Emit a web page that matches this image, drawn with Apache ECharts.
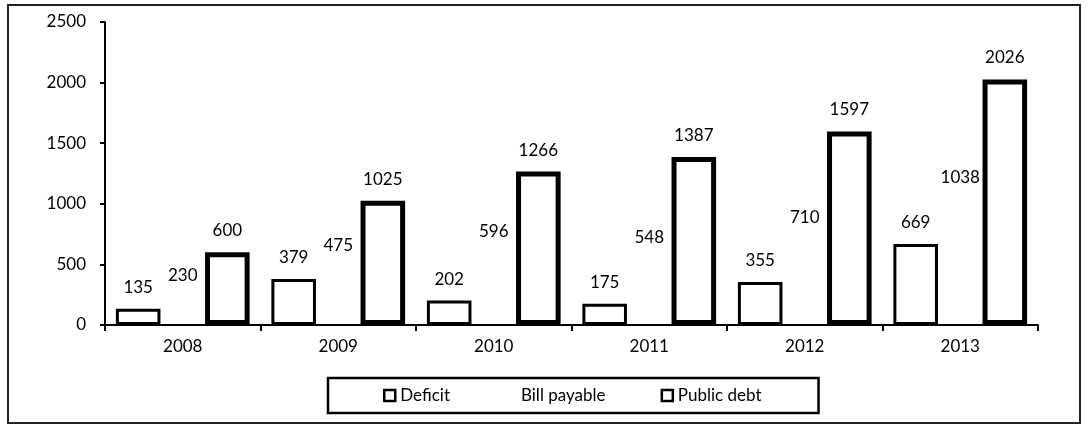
<!DOCTYPE html>
<html>
<head>
<meta charset="utf-8">
<script src="https://cdn.jsdelivr.net/npm/echarts@6/dist/echarts.min.js"></script>
<style>
html,body{margin:0;padding:0;background:#fff;}
#chart{width:1088px;height:426px;}
</style>
</head>
<body>
<div id="chart"></div>
<script>
const categories = ['2008', '2009', '2010', '2011', '2012', '2013'];
const deficit = [135, 379, 202, 175, 355, 669];
const billPayable = [230, 475, 596, 548, 710, 1038];
const publicDebt = [600, 1025, 1266, 1387, 1597, 2026];
const yTicks = [0, 500, 1000, 1500, 2000, 2500];

const FONT = 'Lato';
const chart = echarts.init(document.getElementById('chart'), null, {renderer: 'canvas'});
const labelStyle = {show: true, position: 'top', distance: 13, color: '#000', fontFamily: FONT, fontSize: 17};
const legendIcon = {color: '#fff', borderColor: '#000', borderWidth: 2.5};

chart.setOption({
  animation: false,
  backgroundColor: '#fff',
  textStyle: {fontFamily: FONT},
  graphic: [{
    type: 'rect',
    shape: {x: 8, y: 5, width: 1072, height: 418},
    style: {fill: 'none', stroke: '#222', lineWidth: 2},
    z: -1
  }],
  grid: {left: 105, right: 50, top: 22, bottom: 101},
  legend: {
    data: [
      {name: 'Deficit', itemStyle: legendIcon},
      {name: 'Bill payable', itemStyle: {color: 'rgba(255,255,255,0)', borderWidth: 0}},
      {name: 'Public debt', itemStyle: legendIcon}
    ],
    left: 328,
    top: 378,
    icon: 'rect',
    itemWidth: 11,
    itemHeight: 11,
    itemGap: 55,
    padding: [9, 57, 9, 55],
    borderColor: '#000',
    borderWidth: 2.5,
    textStyle: {fontFamily: FONT, fontSize: 17, color: '#000'}
  },
  xAxis: {
    type: 'category',
    data: categories,
    axisLine: {lineStyle: {color: '#000', width: 2}},
    axisTick: {show: true, length: 6, lineStyle: {color: '#000', width: 2}},
    axisLabel: {color: '#000', fontFamily: FONT, fontSize: 17, margin: 13},
    splitLine: {show: false}
  },
  yAxis: {
    type: 'value',
    min: yTicks[0],
    max: yTicks[yTicks.length - 1],
    interval: 500,
    axisLine: {show: true, lineStyle: {color: '#000', width: 2}},
    axisTick: {show: true, length: 5, lineStyle: {color: '#000', width: 2}},
    axisLabel: {color: '#000', fontFamily: FONT, fontSize: 17, margin: 19, formatter: v => String(v)},
    splitLine: {show: false}
  },
  series: [
    {
      name: 'Deficit', type: 'bar', data: deficit,
      barGap: '0%', barCategoryGap: '14%',
      itemStyle: {color: '#fff', borderColor: '#000', borderWidth: 3},
      label: labelStyle
    },
    {
      name: 'Bill payable', type: 'bar', data: billPayable,
      itemStyle: {color: 'rgba(255,255,255,0)', borderWidth: 0},
      label: labelStyle
    },
    {
      name: 'Public debt', type: 'bar', data: publicDebt,
      itemStyle: {color: '#fff', borderColor: '#000', borderWidth: 5},
      label: labelStyle
    }
  ]
});
</script>
</body>
</html>
